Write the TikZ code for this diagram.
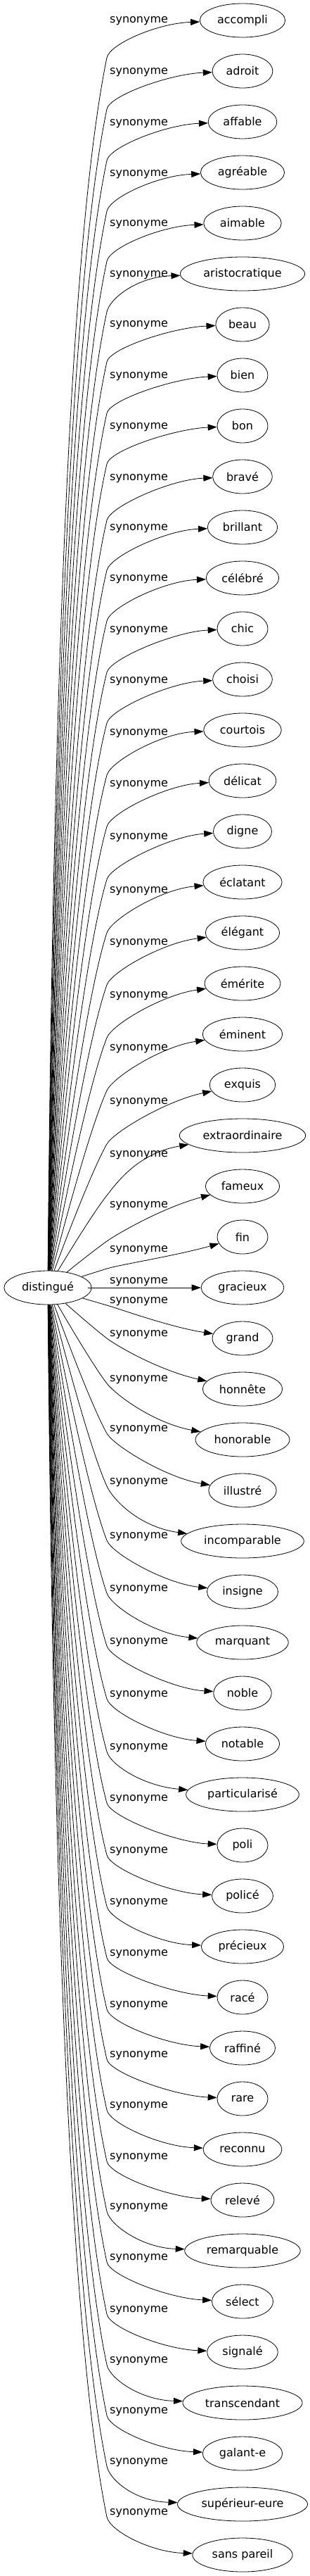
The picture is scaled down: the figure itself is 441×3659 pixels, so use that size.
\documentclass[tikz,border=0pt]{standalone}
\usepackage{fontspec}
\setmainfont{DejaVu Sans}
\usetikzlibrary{arrows.meta, calc, shapes.geometric}

\begin{document}
\begin{tikzpicture}[x=1pt, y=-1pt,
  word/.style={draw, ellipse, line width=0.8pt, inner xsep=7pt, inner ysep=0pt,
    minimum width=72pt, minimum height=48pt, font=\fontsize{16}{19}\selectfont},
  rel/.style={font=\fontsize{16}{19}\selectfont, anchor=base west, inner sep=0pt},
  syn/.style={line width=0.8pt, -{Triangle[length=13pt, width=9pt]}}]
\useasboundingbox (0,0) rectangle (441,3659);

% mot central
\node[word] (d) at (68,1829) {distingué};

% synonymes: index/mot/label y/passage y/inclinaison
\foreach \i/\w/\ly/\vy/\s in {
  0/accompli/27/82/4, 1/adroit/100/155/4, 2/affable/173/228/4,
  3/agréable/245/300/4, 4/aimable/316/371/4, 5/aristocratique/388/443/4,
  6/beau/459/514/4, 7/bien/532/587/4, 8/bon/604/659/4,
  9/bravé/677/739/4, 10/brillant/748/810/4, 11/célébré/820/882/4,
  12/chic/893/955/4, 13/choisi/965/1027/4, 14/courtois/1039/1101/4,
  15/délicat/1112/1174/6, 16/digne/1187/1249/6, 17/éclatant/1263/1325/10,
  18/élégant/1337/1399/14, 19/émérite/1412/1474/16, 20/éminent/1487/1549/18,
  21/exquis/1563/1625/22, 22/extraordinaire/1638/1698/25, 23/fameux/1710/1763/30,
  24/fin/1773/1802/27, 25/gracieux/1818/1829/0, 26/grand/1846/1854/-16,
  27/honnête/1893/1901/-26, 28/honorable/1957/1965/-24, 29/illustré/2028/2036/-18,
  30/incomparable/2103/2111/-20, 31/insigne/2180/2188/-12, 32/marquant/2255/2263/-12,
  33/noble/2330/2338/-6, 34/notable/2405/2413/-8, 35/particularisé/2480/2488/-12,
  36/poli/2553/2561/-4, 37/policé/2627/2635/-4, 38/précieux/2700/2708/-4,
  39/racé/2773/2781/-4, 40/raffiné/2846/2854/-4, 41/rare/2917/2925/-4,
  42/reconnu/2989/2997/-4, 43/relevé/3062/3070/-4, 44/remarquable/3133/3141/-4,
  45/sélect/3205/3213/-4, 46/signalé/3279/3287/-4, 47/transcendant/3351/3359/-4,
  48/galant-e/3423/3431/-4, 49/supérieur-eure/3495/3503/-4, 50/sans pareil/3567/3575/-4} {
  \pgfmathsetmacro\ny{29+72*\i}
  \pgfmathsetmacro\dl{0.0315*abs(\vy-1829)}
  \node[word] (t\i) at (345,\ny) {\w};
  \node[rel] (l\i) at (156,\ly+5) {synonyme};
  \coordinate (v\i) at (152,\vy);
  \coordinate (c\i) at ($(d)!0.8!(v\i) + (-\dl,0)$);
  \draw[syn] (d) .. controls ($(d)!0.667!(c\i)$) and ($(v\i)!0.667!(c\i)$) .. (v\i)
    .. controls ($(v\i)!-20pt!(c\i)$) and ($(t\i.west)+(-60,\s)$) .. (t\i);
}
\end{tikzpicture}
\end{document}
